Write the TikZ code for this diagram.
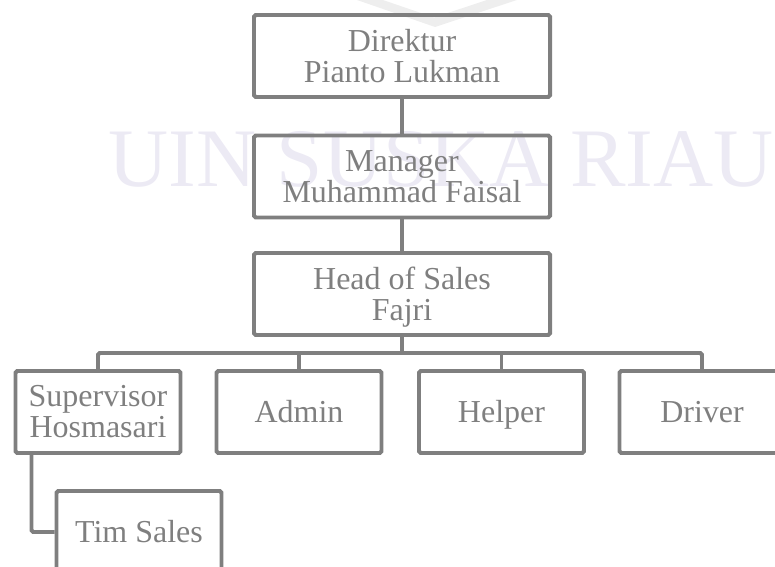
\documentclass[tikz,border=0pt]{standalone}
\usepackage{fontspec}
\setmainfont{Liberation Serif}
\usepackage{xcolor}
\definecolor{ChartGray}{HTML}{7F7F7F}
\definecolor{MarkLilac}{HTML}{ECEAF4}
\definecolor{MarkGray}{HTML}{EEEEEE}

\begin{document}
\begin{tikzpicture}[x=0.03cm, y=-0.03cm,
    font=\fontsize{27.3}{26.5}\selectfont,
    unit/.style={draw=ChartGray, line width=3.4pt, rounded corners=1.5pt, text=ChartGray, align=center, inner sep=0pt, minimum height=2.46cm},
    big/.style={unit, minimum width=8.88cm},
    small/.style={unit, minimum width=4.95cm},
    oneline/.style={text height=18pt, text depth=0pt},
    link/.style={draw=ChartGray, line width=3.4pt, rounded corners=1.5pt}]
                \useasboundingbox (0,0) rectangle (775,567);
                \clip (0,0) rectangle (775,567);

                % Watermark
                \fill[MarkGray] (357,0) -- (435,27) -- (517,0) -- (487,0) -- (434,17.5) -- (383,0) -- cycle;
                \node[text=MarkLilac, font=\fontsize{71}{71}\selectfont, anchor=base, inner sep=0pt] (mark) at (441,187) {UIN SUSKA RIAU};

                % Chart
                \node[big] (dir) at (402,56) {Direktur\\Pianto Lukman};
                \node[big] (man) at (402,176.5) {Manager\\Muhammad Faisal};
                \node[big] (head) at (402,294) {Head of Sales\\\smash{Fajri}};
                \node[small] (sup) at (98,412) {Supervisor\\Hosmasari};
                \node[small, oneline] (adm) at (299,412) {Admin};
                \node[small, oneline] (hlp) at (501.5,412) {Helper};
                \node[small, oneline] (drv) at (702,412) {Driver};
                \node[small, oneline] (tim) at (139,532) {Tim Sales};
                \coordinate (bar) at (402,353);

                \draw[link] (dir) -- (man);
                \draw[link] (man) -- (head);
                \draw[link] (head) -- (bar);
                \draw[link] (sup.north) |- (bar) -| (drv.north);
                \draw[link] (adm.north) -- (adm.north |- bar);
                \draw[link] (hlp.north) -- (hlp.north |- bar);
                \draw[link] ([xshift=0.54cm]sup.south west) |- (tim.west);
            \end{tikzpicture}
\end{document}
